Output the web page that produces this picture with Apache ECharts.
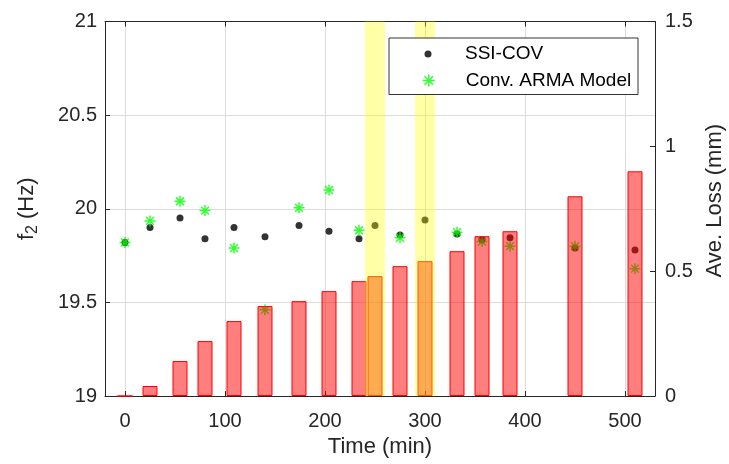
<!DOCTYPE html>
<html>
<head>
<meta charset="utf-8">
<script src="https://cdn.jsdelivr.net/npm/echarts@6/dist/echarts.min.js"></script>
<style>
html,body{margin:0;padding:0;background:#fff;}
#chart{width:729px;height:464px;}
</style>
</head>
<body>
<div id="chart"></div>
<script>
// ---- data ----
const timeSSI = [0, 25, 55, 80, 109, 140, 174, 204, 234, 250, 275, 300, 332, 357, 385, 450, 510];
const f2SSI   = [19.82, 19.90, 19.95, 19.84, 19.90, 19.85, 19.91, 19.88, 19.84, 19.91, 19.86, 19.94, 19.865, 19.835, 19.845, 19.79, 19.78];
const timeARMA = [0, 25, 55, 80, 109, 140, 174, 204, 234, 275, 332, 357, 385, 450, 510];
const f2ARMA   = [19.82, 19.935, 20.04, 19.99, 19.79, 19.46, 20.005, 20.10, 19.885, 19.845, 19.875, 19.825, 19.80, 19.80, 19.68];
const timeLoss = [0, 25, 55, 80, 109, 140, 174, 204, 234, 250, 275, 300, 332, 357, 385, 450, 510];
const aveLoss  = [0, 0.04, 0.14, 0.22, 0.30, 0.36, 0.38, 0.42, 0.46, 0.48, 0.52, 0.54, 0.58, 0.64, 0.66, 0.80, 0.90];
const xTicks = [0, 100, 200, 300, 400, 500];
const bands = [[240, 260], [290, 310]];

const FONT = 'Liberation Sans, Arial, Helvetica, sans-serif';
const AX = '#262626';
const GRID = '#dcdcdc';
const starPath = 'path://M5 0L5 10M0 5L10 5M1.46 1.46L8.54 8.54M8.54 1.46L1.46 8.54';

const zip = (a, b) => a.map((v, i) => [v, b[i]]);

const chart = echarts.init(document.getElementById('chart'), null, {renderer: 'canvas'});
chart.setOption({
  animation: false,
  backgroundColor: '#fff',
  textStyle: {fontFamily: FONT},
  grid: {left: 105, right: 74, top: 21.5, bottom: 68, containLabel: false, outerBoundsMode: 'none'},
  legend: [
    {
      data: [{name: 'SSI-COV', icon: 'circle'}],
      left: 389, top: 38,
      orient: 'vertical',
      padding: [6.5, 10, 31, 35.5],
      itemWidth: 64, itemHeight: 7,
      backgroundColor: '#fff',
      borderColor: '#333', borderWidth: 1, borderRadius: 0,
      selectedMode: false,
      z: 6,
      textStyle: {fontFamily: FONT, fontSize: 19, color: '#000', width: 163, lineHeight: 19}
    },
    {
      data: [{name: 'Conv. ARMA Model', icon: starPath,
              itemStyle: {color: '#00ff00', borderColor: '#00ff00', borderWidth: 1.5}}],
      left: 422, top: 71,
      orient: 'vertical',
      padding: 0,
      itemWidth: 64, itemHeight: 12,
      selectedMode: false,
      z: 7,
      textStyle: {fontFamily: FONT, fontSize: 19, color: '#000', lineHeight: 19}
    }
  ],
  xAxis: [
    {
      type: 'value', position: 'bottom', min: -20, max: 530,
      name: 'Time (min)', nameLocation: 'middle', nameGap: 29,
      nameTextStyle: {fontFamily: FONT, fontSize: 22, color: AX},
      axisLine: {show: true, onZero: false, lineStyle: {color: AX, width: 1}},
      axisTick: {show: true, inside: true, length: 5, customValues: xTicks, lineStyle: {color: AX}},
      axisLabel: {show: true, customValues: xTicks, fontFamily: FONT, fontSize: 20, color: AX, margin: 15},
      splitLine: {show: true, lineStyle: {color: GRID, width: 1}}
    },
    {
      type: 'value', position: 'top', min: -20, max: 530,
      axisLine: {show: true, onZero: false, lineStyle: {color: AX, width: 1}},
      axisTick: {show: true, inside: true, length: 5, customValues: xTicks, lineStyle: {color: AX}},
      axisLabel: {show: false},
      splitLine: {show: false}
    }
  ],
  yAxis: [
    {
      type: 'value', position: 'left', min: 19, max: 21, interval: 0.5,
      name: '{a|f}{b|2}{a| (Hz)}', nameLocation: 'middle', nameGap: 64, nameRotate: 90,
      nameTextStyle: {
        rich: {
          a: {fontFamily: FONT, fontSize: 22, color: AX, lineHeight: 28},
          b: {fontFamily: FONT, fontSize: 16, color: AX, lineHeight: 16, verticalAlign: 'bottom'}
        }
      },
      axisLine: {show: true, onZero: false, lineStyle: {color: AX, width: 1}},
      axisTick: {show: true, inside: true, length: 5, lineStyle: {color: AX}},
      axisLabel: {fontFamily: FONT, fontSize: 20, color: AX, margin: 8},
      splitLine: {show: true, lineStyle: {color: GRID, width: 1}}
    },
    {
      type: 'value', position: 'right', min: 0, max: 1.5, interval: 0.5,
      name: 'Ave. Loss (mm)', nameLocation: 'middle', nameGap: 49, nameRotate: 90,
      nameTextStyle: {fontFamily: FONT, fontSize: 22, color: AX, padding: [0, 0, 0, 16]},
      axisLine: {show: true, onZero: false, lineStyle: {color: AX, width: 1}},
      axisTick: {show: true, inside: true, length: 5, lineStyle: {color: AX}},
      axisLabel: {fontFamily: FONT, fontSize: 20, color: AX, margin: 10},
      splitLine: {show: false}
    }
  ],
  series: [
    {
      name: 'SSI-COV', type: 'scatter', xAxisIndex: 0, yAxisIndex: 0,
      data: zip(timeSSI, f2SSI),
      symbol: 'circle', symbolSize: 7,
      itemStyle: {color: '#000000'},
      emphasis: {disabled: true},
      z: 2
    },
    {
      name: 'Conv. ARMA Model', type: 'scatter', xAxisIndex: 0, yAxisIndex: 0,
      data: zip(timeARMA, f2ARMA),
      symbol: starPath, symbolSize: 11,
      itemStyle: {color: '#00ff00', borderColor: '#00ff00', borderWidth: 1.5},
      emphasis: {disabled: true},
      z: 2
    },
    {
      name: 'Ave. Loss', type: 'bar', xAxisIndex: 0, yAxisIndex: 1,
      data: zip(timeLoss, aveLoss),
      barWidth: 15,
      itemStyle: {color: 'rgba(255,0,0,0.5)', borderColor: '#ff0000', borderWidth: 1},
      emphasis: {disabled: true},
      z: 3
    },
    {
      name: 'bands', type: 'line', xAxisIndex: 0, yAxisIndex: 0,
      data: [],
      z: 4,
      markArea: {
        silent: true,
        z: 4,
        itemStyle: {color: 'rgba(255,255,0,0.35)', borderWidth: 0},
        label: {show: false},
        data: bands.map(b => [{xAxis: b[0]}, {xAxis: b[1]}])
      }
    }
  ]
});
</script>
</body>
</html>
